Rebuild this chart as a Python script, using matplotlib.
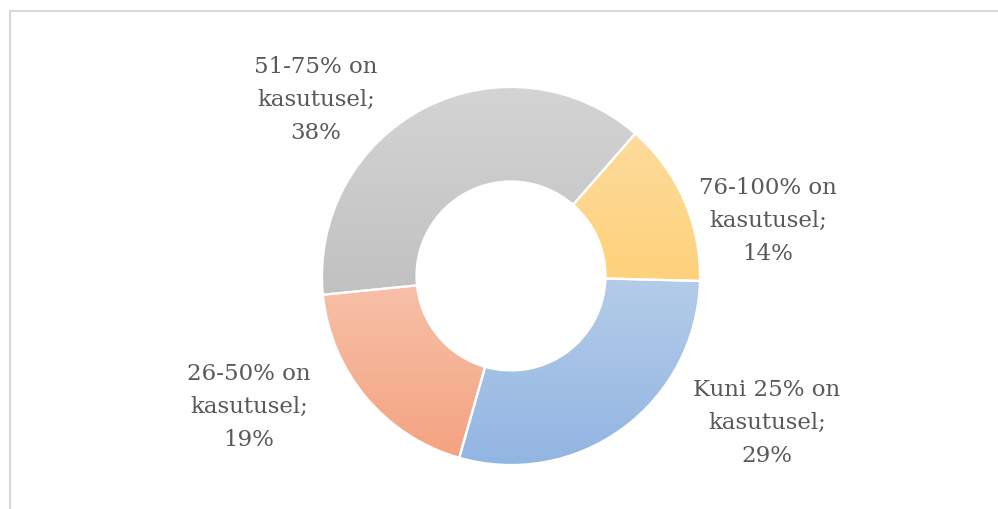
import matplotlib
matplotlib.use("Agg")
import matplotlib.pyplot as plt
import numpy as np
from matplotlib.colors import LinearSegmentedColormap
from matplotlib.patches import Rectangle

categories = ["Kuni 25% on\nkasutusel;", "26-50% on\nkasutusel;", "51-75% on\nkasutusel;", "76-100% on\nkasutusel;"]
values = [29, 19, 38, 14]
top_colors = ["#b4cce9", "#f7c0a8", "#d4d4d4", "#fddb9b"]
bottom_colors = ["#92b5e2", "#f4a380", "#c1c1c1", "#ffd27b"]
label_pos = [(767, 87), (249, 103), (316, 410), (768, 289)]

W, H = 998, 510
fig = plt.figure(figsize=(W / 100, H / 100), dpi=100)
ax = fig.add_axes([0, 0, 1, 1])

cx, cy, R = 511, 233, 189
wedges, _ = ax.pie(values, center=(cx, cy), radius=R, startangle=-1.5, counterclock=False,
                   wedgeprops=dict(width=R * 0.5, edgecolor="white", linewidth=1.6))

grad = np.linspace(0, 1, 256).reshape(-1, 1)
for w, c0, c1 in zip(wedges, top_colors, bottom_colors):
    ext = w.get_path().get_extents()
    cmap = LinearSegmentedColormap.from_list("g", [c1, c0])
    im = ax.imshow(grad, extent=[ext.x0, ext.x1, ext.y0, ext.y1], origin="lower",
                   cmap=cmap, aspect="auto", zorder=1, interpolation="bilinear")
    im.set_clip_path(w)
    w.set_facecolor("none")
    w.set_zorder(2)

for (x, y), cat, v in zip(label_pos, categories, values):
    ax.text(x, y, f"{cat}\n{v}%", ha="center", va="center", fontsize=16.5,
            family="DejaVu Serif", color="#595959", linespacing=1.62, zorder=3)

ax.set_xlim(0, W)
ax.set_ylim(0, H)
ax.set_aspect("auto")
ax.axis("off")

fig.patches.append(Rectangle((9.5 / W, -0.1), 1.2, (H - 11.5) / H + 0.1, transform=fig.transFigure,
                             fill=False, edgecolor="#d9d9d9", linewidth=1.5))

fig.savefig("out.png", dpi=100, facecolor="white")
